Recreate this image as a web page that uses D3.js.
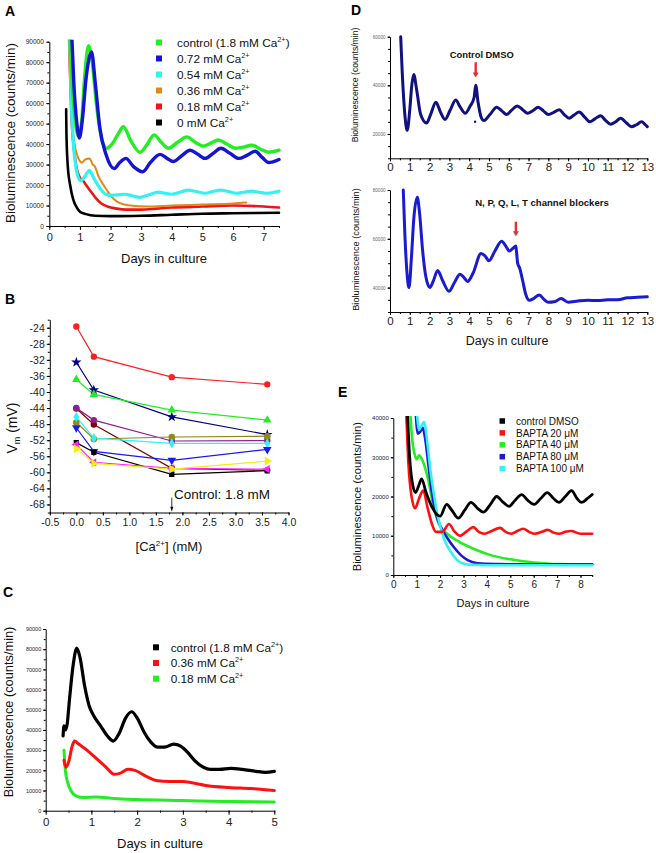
<!DOCTYPE html>
<html><head><meta charset="utf-8">
<script src="https://cdn.jsdelivr.net/npm/d3@7"></script>
<style>body{margin:0;background:#fff} svg{display:block}</style>
</head><body><svg id="c" width="656" height="853"></svg>
<script>
const FONT = '"Liberation Sans", Arial, Helvetica, sans-serif';

// ---------- Panel A data (days, counts/min) ----------
const A_control = [[0.66,98000],[0.72,75000],[0.82,55000],[0.95,44000],[1.05,50000],[1.15,72000],[1.28,88000],[1.4,80000],[1.55,58000],[1.72,42000],[1.87,38000],[2.05,40000],[2.25,45000],[2.42,48500],[2.65,42000],[2.96,36000],[3.2,40000],[3.42,44500],[3.65,41000],[3.89,38000],[4.2,41000],[4.49,43500],[4.75,41000],[5.03,39000],[5.28,40500],[5.52,42000],[5.8,40000],[6.07,38000],[6.35,38500],[6.61,39500],[6.9,37500],[7.16,36000],[7.5,37000]];
const A_072 = [[0.72,98000],[0.8,70000],[0.9,50000],[0.98,43000],[1.08,52000],[1.2,72000],[1.38,85000],[1.5,70000],[1.65,48000],[1.85,35000],[2.12,28000],[2.3,31000],[2.5,33000],[2.75,29000],[3.05,26500],[3.3,31000],[3.62,35000],[3.85,33000],[4.05,31500],[4.3,34000],[4.6,37000],[4.85,35000],[5.09,33000],[5.35,35500],[5.6,38000],[5.9,35500],[6.18,33000],[6.45,34500],[6.72,36500],[6.95,33500],[7.16,31000],[7.5,32500]];
const A_054 = [[0.66,98000],[0.72,60000],[0.8,38000],[0.92,25000],[1.03,22000],[1.15,24000],[1.31,27000],[1.45,23500],[1.65,18500],[1.85,15500],[1.98,15000],[2.2,15200],[2.47,15500],[2.7,14800],[2.96,14000],[3.25,15200],[3.56,16500],[3.78,16000],[4.0,15500],[4.27,16500],[4.54,17500],[4.8,16800],[5.09,16000],[5.33,16800],[5.58,17500],[5.85,16800],[6.12,16000],[6.35,16500],[6.61,17000],[6.85,16500],[7.1,16000],[7.5,17000]];
const A_036 = [[0.62,98000],[0.68,70000],[0.75,50000],[0.85,38000],[0.95,33000],[1.06,31000],[1.18,32500],[1.31,33000],[1.42,30000],[1.49,29000],[1.6,24500],[1.77,20000],[2.0,15000],[2.2,12000],[2.45,10500],[2.64,10000],[3.2,9500],[4.0,10000],[5.0,10500],[6.0,11000],[6.43,11500]];
const A_018 = [[0.64,98000],[0.72,55000],[0.85,32000],[1.0,23500],[1.11,22000],[1.2,20000],[1.35,17000],[1.5,14000],[1.7,11000],[1.9,9500],[2.2,8500],[2.5,8000],[3.0,8000],[3.5,8500],[4.0,9000],[5.0,9500],[6.0,10000],[7.0,9500],[7.5,9000]];
const A_000 = [[0.55,57000],[0.56,45000],[0.6,30000],[0.68,20000],[0.78,13000],[0.9,9000],[1.0,7000],[1.2,5800],[1.5,5000],[2.0,4800],[3.0,5000],[4.0,5500],[5.0,6000],[6.0,6200],[7.5,6500]];
const A_labels = ['control (1.8 mM Ca', '0.72 mM Ca', '0.54 mM Ca', '0.36 mM Ca', '0.18 mM Ca', '0 mM Ca'];
const A_xTicks = [0,1,2,3,4,5,6,7];
const A_yTicks = [0,10000,20000,30000,40000,50000,60000,70000,80000,90000];

// ---------- Panel B data ----------
const B_conc = [0, 0.33, 1.8, 3.6];
const B_red = [-23.7, -31.2, -36.3, -38.1];
const B_navy = [-32.6, -39.5, -46.2, -50.6];
const B_green = [-36.9, -40.6, -44.5, -47.0];
const B_maroon = [-44.1, -48.1, -59.0, -59.5];
const B_purple = [-44.0, -47.0, -52.2, -52.1];
const B_olive = [-47.6, -51.7, -51.2, -51.0];
const B_cyan = [-46.2, -51.5, -52.8, -52.8];
const B_blue = [-48.9, -54.8, -57.0, -54.3];
const B_black = [-52.6, -55.0, -60.5, -59.6];
const B_magenta = [-53.1, -57.5, -59.0, -59.2];
const B_yellow = [-54.1, -57.8, -59.2, -57.2];
const B_xTicks = [-0.5,0,0.5,1,1.5,2,2.5,3,3.5,4];
const B_yTicks = [-68,-64,-60,-56,-52,-48,-44,-40,-36,-32,-28,-24];

// ---------- Panel C data ----------
const C_control = [[0.38,37000],[0.4,42000],[0.43,40000],[0.47,43000],[0.52,55000],[0.6,72000],[0.68,80500],[0.75,76000],[0.85,62000],[0.95,52000],[1.05,47000],[1.2,42000],[1.35,37000],[1.48,34500],[1.6,38000],[1.75,46000],[1.88,49000],[2.0,46000],[2.15,39000],[2.3,34000],[2.45,31500],[2.6,31500],[2.8,33000],[2.95,32000],[3.1,29000],[3.25,25000],[3.45,21500],[3.6,20500],[3.8,20500],[4.05,21000],[4.3,20500],[4.6,19500],[4.8,19000],[5.0,19500]];
const C_036 = [[0.4,25000],[0.44,21500],[0.5,24000],[0.58,32000],[0.63,34500],[0.72,33000],[0.9,30000],[1.1,26000],[1.3,22000],[1.5,18000],[1.62,18500],[1.8,20500],[1.95,20000],[2.2,17000],[2.45,14800],[2.7,14500],[3.0,14500],[3.2,13800],[3.5,12500],[4.0,11500],[4.5,11000],[5.0,10000]];
const C_018 = [[0.4,30000],[0.43,20000],[0.48,14000],[0.55,10000],[0.65,7500],[0.8,6500],[1.1,6800],[1.5,6000],[2.0,5500],[3.0,5000],[4.0,4500],[5.0,4300]];
const C_labels = ['control (1.8 mM Ca', '0.36 mM Ca', '0.18 mM Ca'];

// ---------- Panel D data ----------
const D_dmso = [[0.54,60000],[0.62,45000],[0.75,28000],[0.87,21500],[1.0,30000],[1.1,40000],[1.2,44500],[1.35,38000],[1.55,28000],[1.85,24500],[2.05,28000],[2.32,33000],[2.55,29000],[2.78,26000],[3.05,30000],[3.32,34000],[3.55,31000],[3.8,28500],[4.05,31500],[4.25,35000],[4.33,40000],[4.45,33000],[4.6,27000],[4.75,25500],[5.05,28000],[5.39,31000],[5.65,29500],[5.89,28000],[6.15,29800],[6.43,31500],[6.7,30000],[6.95,28500],[7.2,29500],[7.49,31000],[7.75,29500],[8.0,28000],[8.3,29000],[8.55,30000],[8.8,28000],[9.05,26500],[9.3,27800],[9.56,29000],[9.85,26800],[10.1,25000],[10.35,26200],[10.64,27500],[10.9,25500],[11.15,24000],[11.4,25000],[11.65,26500],[11.95,24500],[12.2,23000],[12.45,23800],[12.71,25000],[12.9,23800],[13.0,23000]];
const D_dmsoOutlier = [[4.3,25000]];
const D_blockers = [[0.67,80000],[0.75,62000],[0.85,47000],[0.96,40000],[1.08,52000],[1.2,68000],[1.38,77000],[1.5,70000],[1.65,55000],[1.8,45000],[2.02,40000],[2.2,43000],[2.41,47000],[2.65,43000],[2.98,38500],[3.25,42000],[3.54,45500],[3.75,44000],[3.92,42500],[4.2,46000],[4.6,54000],[4.8,53000],[5.0,51000],[5.3,55000],[5.64,59000],[5.85,57000],[6.03,55000],[6.2,56000],[6.36,57000],[6.4,54000],[6.45,50000],[6.55,48000],[6.7,43000],[6.85,37500],[7.05,34800],[7.25,35500],[7.54,37000],[7.8,35000],[8.0,34000],[8.3,34200],[8.65,35500],[9.0,34000],[9.5,34500],[10.0,34800],[10.5,34700],[11.0,35000],[11.5,35000],[12.0,35800],[12.5,36000],[13.0,36200]];
const D_xTicks = [0,1,2,3,4,5,6,7,8,9,10,11,12,13];

// ---------- Panel E data ----------
const E_control = [[0.6,42000],[0.7,30000],[0.8,24000],[0.95,21000],[1.1,23000],[1.21,24500],[1.4,21000],[1.6,18000],[1.85,15500],[2.0,15000],[2.28,18000],[2.5,16500],[2.78,14500],[3.05,16500],[3.32,18500],[3.6,17000],[3.85,16000],[4.15,18000],[4.42,20000],[4.7,18500],[4.95,17500],[5.2,19000],[5.49,20500],[5.75,19000],[6.02,18000],[6.3,19500],[6.58,21000],[6.85,19500],[7.08,18500],[7.35,20000],[7.62,21500],[7.85,19500],[8.05,18500],[8.3,19500],[8.5,20500]];
const E_b20 = [[0.55,42000],[0.65,28000],[0.78,20000],[0.93,17000],[1.1,19500],[1.28,21500],[1.45,17500],[1.65,13000],[1.82,11000],[2.1,11000],[2.38,13000],[2.6,11200],[2.85,10000],[3.15,11200],[3.42,12200],[3.65,11000],[3.9,10500],[4.2,11200],[4.56,12000],[4.8,11000],[5.05,10500],[5.3,11200],[5.55,11800],[5.8,11000],[6.05,10500],[6.35,11000],[6.6,11500],[6.85,10800],[7.1,10500],[7.35,11000],[7.6,11200],[8.0,10500],[8.5,10500]];
const E_b40 = [[0.72,42000],[0.8,35000],[0.9,31000],[1.0,29500],[1.1,30500],[1.22,29500],[1.35,27500],[1.5,24000],[1.7,18000],[1.95,13000],[2.3,10500],[2.8,8500],[3.5,6500],[4.2,5000],[5.0,4000],[6.0,3200],[7.0,2800],[8.5,2700]];
const E_b80 = [[0.95,42000],[1.05,36000],[1.15,36500],[1.25,37500],[1.38,34000],[1.5,28000],[1.65,21000],[1.85,15000],[2.05,12000],[2.3,9500],[2.6,7000],[2.9,5000],[3.2,3700],[3.6,3000],[4.5,2800],[6.0,2700],[8.5,2700]];
const E_b100 = [[1.0,42000],[1.1,37000],[1.2,38000],[1.31,39000],[1.45,34000],[1.6,26000],[1.75,20000],[1.9,15000],[2.05,11500],[2.25,8000],[2.45,6000],[2.7,4000],[2.95,3000],[3.3,2600],[4.0,2500],[8.5,2500]];
const E_labels = ['control DMSO','BAPTA 20 \u03bcM','BAPTA 40 \u03bcM','BAPTA 80 \u03bcM','BAPTA 100 \u03bcM'];

// ---------------------------------------------------------
const svg = d3.select('#c');
svg.append('rect').attr('width',656).attr('height',853).attr('fill','#fff');
const defs = svg.append('defs');
const fmtPlain = d => String(d);

function range(a,b,s){const r=[];for(let v=a;v<=b+1e-9;v+=s)r.push(+v.toFixed(4));return r;}

function makePanel(o){
  const g = svg.append('g');
  const x = d3.scaleLinear().domain(o.xd).range(o.xr);
  const y = d3.scaleLinear().domain(o.yd).range(o.yr);
  defs.append('clipPath').attr('id','clip'+o.id).append('rect')
    .attr('x',o.xr[0]).attr('y',o.yr[1]-2).attr('width',o.xr[1]-o.xr[0]+3).attr('height',o.yr[0]-o.yr[1]+2);
  g.append('g').attr('transform',`translate(0,${o.yr[0]})`)
    .call(d3.axisBottom(x).tickValues(o.xm).tickSize(2).tickFormat('').tickSizeOuter(0))
    .call(a=>a.select('.domain').remove()).attr('color','#000');
  g.append('g').attr('transform',`translate(${o.xr[0]},0)`)
    .call(d3.axisLeft(y).tickValues(o.ym).tickSize(2).tickFormat('').tickSizeOuter(0))
    .call(a=>a.select('.domain').remove()).attr('color','#000');
  const xa = g.append('g').attr('transform',`translate(0,${o.yr[0]})`)
    .call(d3.axisBottom(x).tickValues(o.xt).tickSize(o.xts||4).tickPadding(o.xtp||3).tickSizeOuter(0).tickFormat(o.xf||fmtPlain));
  xa.attr('font-family',FONT).attr('font-size',o.xfs).attr('color','#000');
  xa.selectAll('text').attr('fill',o.xcol||'#222');
  const ya = g.append('g').attr('transform',`translate(${o.xr[0]},0)`)
    .call(d3.axisLeft(y).tickValues(o.yt).tickSize(o.yts||3).tickPadding(o.ytp||3).tickSizeOuter(0).tickFormat(o.yf||fmtPlain));
  ya.attr('font-family',FONT).attr('font-size',o.yfs).attr('color','#000');
  ya.selectAll('text').attr('fill',o.ycol||'#222');
  const plot = svg.append('g').attr('clip-path',`url(#clip${o.id})`);
  return {x,y,g,plot};
}

function curve(p, data, color, w){
  const line = d3.line().x(d=>p.x(d[0])).y(d=>p.y(d[1])).curve(d3.curveMonotoneX);
  p.plot.append('path').datum(data).attr('d',line).attr('fill','none')
    .attr('stroke',color).attr('stroke-width',w).attr('stroke-linejoin','round').attr('stroke-linecap','round');
}

function text(x,y,str,size,opts={}){
  const t = svg.append('text').attr('x',x).attr('y',y).attr('font-family',FONT)
    .attr('font-size',size).attr('fill',opts.fill||'#111').text(str);
  if(opts.anchor) t.attr('text-anchor',opts.anchor);
  if(opts.bold) t.attr('font-weight','bold');
  if(opts.rotate) t.attr('transform',`rotate(-90,${x},${y})`);
  return t;
}
function caText(x,y,base,size,tail){
  const t = svg.append('text').attr('x',x).attr('y',y).attr('font-family',FONT).attr('font-size',size).attr('fill','#111');
  t.append('tspan').text(base);
  t.append('tspan').attr('font-size',size*0.62).attr('dy',-size*0.42).text('2+');
  if(tail) t.append('tspan').attr('dy',size*0.42).text(tail);
  return t;
}
function legend(items, mx, tx, y0, step, size, msz){
  items.forEach((it,i)=>{
    const cy = y0 + i*step;
    svg.append('rect').attr('x',mx-msz/2).attr('y',cy-msz/2).attr('width',msz).attr('height',msz).attr('fill',it.color);
    if(it.ca) caText(tx, cy+size*0.36, it.label, size, it.tail);
    else text(tx, cy+size*0.36, it.label, size);
  });
}
function arrow(x, y1, y2, color, w, hw, hh){
  svg.append('line').attr('x1',x).attr('x2',x).attr('y1',y1).attr('y2',y2-hh+1).attr('stroke',color).attr('stroke-width',w);
  svg.append('path').attr('d',`M${x-hw/2},${y2-hh} L${x+hw/2},${y2-hh} L${x},${y2} Z`).attr('fill',color);
}

// ================= Panel A =================
const pA = makePanel({id:'A', xd:[0,7.5], xr:[49.3,279], yd:[0,90000], yr:[226,41.7],
  xt:A_xTicks, xm:range(0,7.5,0.5), yt:A_yTicks, ym:range(0,90000,5000),
  xfs:11, yfs:6.5, xts:4, xtp:3, yts:3, ytp:2.5});
curve(pA, A_000, '#000', 2.6);
curve(pA, A_018, '#ee1515', 2.6);
curve(pA, A_036, '#e08818', 2);
curve(pA, A_054, '#33f2f2', 3.2);
curve(pA, A_control, '#22ee22', 3.4);
curve(pA, A_072, '#1414d2', 3.4);
legend([
  {label:A_labels[0], color:'#22ee22', ca:true, tail:')'},
  {label:A_labels[1], color:'#1414d2', ca:true},
  {label:A_labels[2], color:'#33f2f2', ca:true},
  {label:A_labels[3], color:'#e08818', ca:true},
  {label:A_labels[4], color:'#ee1515', ca:true},
  {label:A_labels[5], color:'#000', ca:true}
], 159, 177, 42.5, 16, 11.8, 6);
text(15, 133, 'Bioluminescence (counts/min)', 13.5, {anchor:'middle', rotate:true});
text(164, 262.5, 'Days in culture', 13, {anchor:'middle'});
text(5, 16, 'A', 14, {bold:true, fill:'#000'});

// ================= Panel B =================
const pB = makePanel({id:'B', xd:[-0.5,4], xr:[49.8,288.5], yd:[-70,-22], yr:[512.5,319.7],
  xt:B_xTicks, xm:range(-0.5,4,0.25), yt:B_yTicks, ym:range(-70,-22,2),
  xfs:10.5, yfs:10.5, xf:d=>d.toFixed(1), yf:fmtPlain, xts:3, xtp:3, yts:3, ytp:2});
const T = d3.symbolTriangle;
const B_series = [
  {v:B_red, c:'#ff2020', s:d3.symbolCircle, r:0, sz:32},
  {v:B_navy, c:'#000080', s:d3.symbolStar, r:0, sz:34},
  {v:B_green, c:'#22ee22', s:T, r:0, sz:32},
  {v:B_maroon, c:'#800000', s:d3.symbolCircle, r:0, sz:32},
  {v:B_purple, c:'#8e1f8e', s:d3.symbolCircle, r:0, sz:32},
  {v:B_olive, c:'#8c8c14', s:d3.symbolCircle, r:0, sz:34},
  {v:B_cyan, c:'#33f2f2', s:d3.symbolDiamond, r:0, sz:30},
  {v:B_blue, c:'#1a1aee', s:T, r:180, sz:32},
  {v:B_black, c:'#000', s:d3.symbolSquare, r:0, sz:28},
  {v:B_magenta, c:'#ff22ff', s:T, r:-90, sz:30},
  {v:B_yellow, c:'#eeee11', s:T, r:90, sz:32}
];
const bLine = d3.line().x((d,i)=>pB.x(B_conc[i])).y(d=>pB.y(d));
B_series.forEach(s=>{
  svg.append('path').datum(s.v).attr('d',bLine).attr('fill','none').attr('stroke',s.c).attr('stroke-width',1.2);
});
B_series.forEach(s=>{
  svg.append('g').selectAll('path').data(s.v).join('path')
    .attr('d', d3.symbol().type(s.s).size(s.sz))
    .attr('transform',(d,i)=>`translate(${pB.x(B_conc[i])},${pB.y(d)}) rotate(${s.r})`)
    .attr('fill',s.c);
});
arrow(pB.x(1.8), pB.y(-66.3), pB.y(-69.8), '#000', 0.8, 3, 5);
text(174, 499, 'Control: 1.8 mM', 13.5);
{
  const t = svg.append('text').attr('transform','translate(17,428) rotate(-90)').attr('text-anchor','middle')
    .attr('font-family',FONT).attr('font-size',14).attr('fill','#111');
  t.append('tspan').text('V');
  t.append('tspan').attr('font-size',9).attr('dy',3).text('m');
  t.append('tspan').attr('dy',-3).text(' (mV)');
}
{
  const t = svg.append('text').attr('x',169).attr('y',551).attr('text-anchor','middle')
    .attr('font-family',FONT).attr('font-size',13).attr('fill','#111');
  t.append('tspan').text('[Ca');
  t.append('tspan').attr('font-size',8).attr('dy',-5.5).text('2+');
  t.append('tspan').attr('dy',5.5).text('] (mM)');
}
text(5, 304, 'B', 14, {bold:true, fill:'#000'});

// ================= Panel C =================
const pC = makePanel({id:'C', xd:[0,5], xr:[45.7,274.3], yd:[0,90000], yr:[810.7,629],
  xt:[0,1,2,3,4,5], xm:range(0,5,0.5), yt:A_yTicks, ym:range(0,90000,5000),
  xfs:11.5, yfs:5.5, xts:4, xtp:3, yts:2.5, ytp:2});
curve(pC, C_018, '#22ee22', 3);
curve(pC, C_036, '#ff1010', 3);
curve(pC, C_control, '#000', 3.2);
legend([
  {label:C_labels[0], color:'#000', ca:true, tail:')'},
  {label:C_labels[1], color:'#ff1010', ca:true},
  {label:C_labels[2], color:'#22ee22', ca:true}
], 156, 170.7, 647.3, 15.7, 11.8, 6);
text(13, 712, 'Bioluminescence (counts/min)', 12.8, {anchor:'middle', rotate:true});
text(160, 848, 'Days in culture', 13, {anchor:'middle'});
text(3, 597, 'C', 14, {bold:true, fill:'#000'});

// ================= Panel D (top) =================
const pD1 = makePanel({id:'D1', xd:[0,13], xr:[390,647.3], yd:[10000,60000], yr:[158.3,36.7],
  xt:D_xTicks, xm:range(0,13,0.5), yt:[20000,40000,60000], ym:range(10000,60000,5000),
  xfs:11.5, yfs:4.6, xts:3, xtp:2, yts:2.5, ytp:2, ycol:'#666'});
curve(pD1, D_dmso, '#10107e', 3);
pD1.plot.selectAll('circle.o').data(D_dmsoOutlier).join('circle')
  .attr('cx',d=>pD1.x(d[0])).attr('cy',d=>pD1.y(d[1])).attr('r',1.2).attr('fill','#10107e');
text(481.7, 57.5, 'Control DMSO', 9.4, {anchor:'middle', bold:true});
arrow(pD1.x(4.33), pD1.y(49500), pD1.y(43200), '#e03030', 2.4, 6, 5);
text(358, 85, 'Bioluminescence (counts/min)', 8.6, {anchor:'middle', rotate:true});
text(351, 15, 'D', 14, {bold:true, fill:'#000'});

// ================= Panel D (bottom) =================
const pD2 = makePanel({id:'D2', xd:[0,13], xr:[390,647.3], yd:[30000,80000], yr:[312,190],
  xt:D_xTicks, xm:range(0,13,0.5), yt:[40000,60000,80000], ym:range(30000,80000,5000),
  xfs:11.5, yfs:4.6, xts:3, xtp:2, yts:2.5, ytp:2, ycol:'#666'});
curve(pD2, D_blockers, '#1a1ad0', 3);
text(542, 206, 'N, P, Q, L, T channel blockers', 9.6, {anchor:'middle', bold:true});
arrow(pD2.x(6.36), pD2.y(67000), pD2.y(61000), '#e03030', 2.4, 6, 5);
text(358.5, 249.5, 'Bioluminescence (counts/min)', 9.2, {anchor:'middle', rotate:true});
text(507, 344.5, 'Days in culture', 12.5, {anchor:'middle'});

// ================= Panel E =================
const pE = makePanel({id:'E', xd:[0,8.5], xr:[393.3,592.2], yd:[0,40000], yr:[575,418],
  xt:[0,1,2,3,4,5,6,7,8], xm:range(0,8.5,0.5), yt:[0,10000,20000,30000,40000], ym:range(0,40000,5000),
  xfs:10, yfs:6, xts:3, xtp:3, yts:2.5, ytp:2});
curve(pE, E_b40, '#22ee22', 2.6);
curve(pE, E_b80, '#1a1ad6', 2.6);
curve(pE, E_b100, '#33f2f2', 2.6);
curve(pE, E_b20, '#ff1010', 2.6);
curve(pE, E_control, '#000', 2.8);
legend([
  {label:E_labels[0], color:'#000'},
  {label:E_labels[1], color:'#ff1010'},
  {label:E_labels[2], color:'#22ee22'},
  {label:E_labels[3], color:'#1a1ad6'},
  {label:E_labels[4], color:'#33f2f2'}
], 502.3, 516, 421, 11.9, 10, 5.5);
text(361, 496.7, 'Bioluminescence (counts/min)', 11.2, {anchor:'middle', rotate:true});
text(493, 607, 'Days in culture', 11, {anchor:'middle'});
text(338, 397, 'E', 14, {bold:true, fill:'#000'});
</script></body></html>
